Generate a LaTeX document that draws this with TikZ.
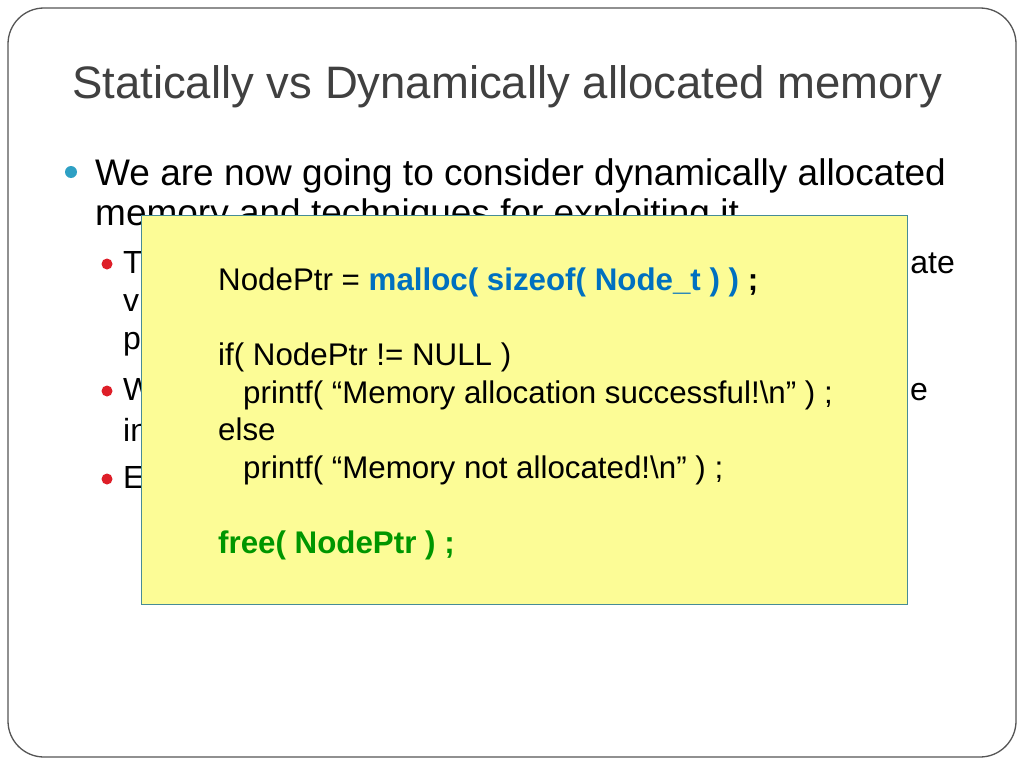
\documentclass[tikz,border=0pt]{standalone}
\usepackage{fontspec}
\setmainfont{Liberation Sans}
\definecolor{titlegray}{RGB}{64,64,64}
\definecolor{framegray}{RGB}{85,85,85}
\definecolor{dotblue}{RGB}{46,160,196}
\definecolor{dotred}{RGB}{222,30,40}
\definecolor{codeyellow}{RGB}{252,252,150}
\definecolor{codeframe}{RGB}{70,140,150}
\definecolor{codeblue}{RGB}{0,112,192}
\definecolor{codegreen}{RGB}{0,150,0}

\begin{document}
\begin{tikzpicture}[x=1pt,y=-1pt,
  txt/.style={anchor=base west,inner sep=0pt},
  txtright/.style={anchor=base east,inner sep=0pt},
  maintxt/.style={txt,font=\fontsize{37}{44}\selectfont},
  subtxt/.style={font=\fontsize{32}{38}\selectfont},
  codetxt/.style={txt,font=\fontsize{31.3}{37}\selectfont}]
\fill[white] (0,0) rectangle (1024,768);
\useasboundingbox (0,0) rectangle (1024,768);
% Slide frame and title
\draw[framegray,line width=1.3pt,rounded corners=36pt] (8,8) rectangle (1016,757);
\node[txt,text=titlegray,font=\fontsize{45.5}{54}\selectfont] (title) at (72,98) {Statically vs Dynamically allocated memory};

% Bullets (mostly hidden behind the code box)
\fill[dotblue] (71,172) circle (6);
\node[maintxt] (mainA) at (95,185) {We are now going to consider dynamically allocated};
\node[maintxt] (mainB) at (95,225) {memory and techniques for exploiting it};
\fill[dotred] (107,264) circle (5.5);
\node[txt,subtxt] (subT) at (123,273) {T};
\node[txt,subtxt] (subV) at (123,311) {v};
\node[txt,subtxt] (subP) at (123,349) {p};
\node[txtright,subtxt] (subAte) at (955,273) {ate};
\fill[dotred] (107,391) circle (5.5);
\node[txt,subtxt] (subW) at (123,400) {W};
\node[txt,subtxt] (subIn) at (123,441) {in};
\node[txtright,subtxt] (subE) at (928,400) {e};
\fill[dotred] (107,479) circle (5.5);
\node[txt,subtxt] (subEx) at (123,488) {E};

% Code box
\node[draw=codeframe,fill=codeyellow,line width=1pt,minimum width=766pt,minimum height=389pt,inner sep=0pt] (codebox) at (524,409.5) {};
\node[codetxt] (lineMalloc) at (218,290) {NodePtr = \textcolor{codeblue}{\bfseries malloc( sizeof( Node\_t ) )} \textbf{;}};
\node[codetxt] (lineIf) at (218,365) {if( NodePtr != NULL )};
\node[codetxt] (lineOk) at (243,403) {printf( “Memory allocation successful!\textbackslash n” ) ;};
\node[codetxt] (lineElse) at (218,440) {else};
\node[codetxt] (lineFail) at (243,478) {printf( “Memory not allocated!\textbackslash n” ) ;};
\node[codetxt,text=codegreen,font=\fontsize{31.3}{37}\selectfont\bfseries] (lineFree) at (218,553) {free( NodePtr ) ;};
\end{tikzpicture}
\end{document}
